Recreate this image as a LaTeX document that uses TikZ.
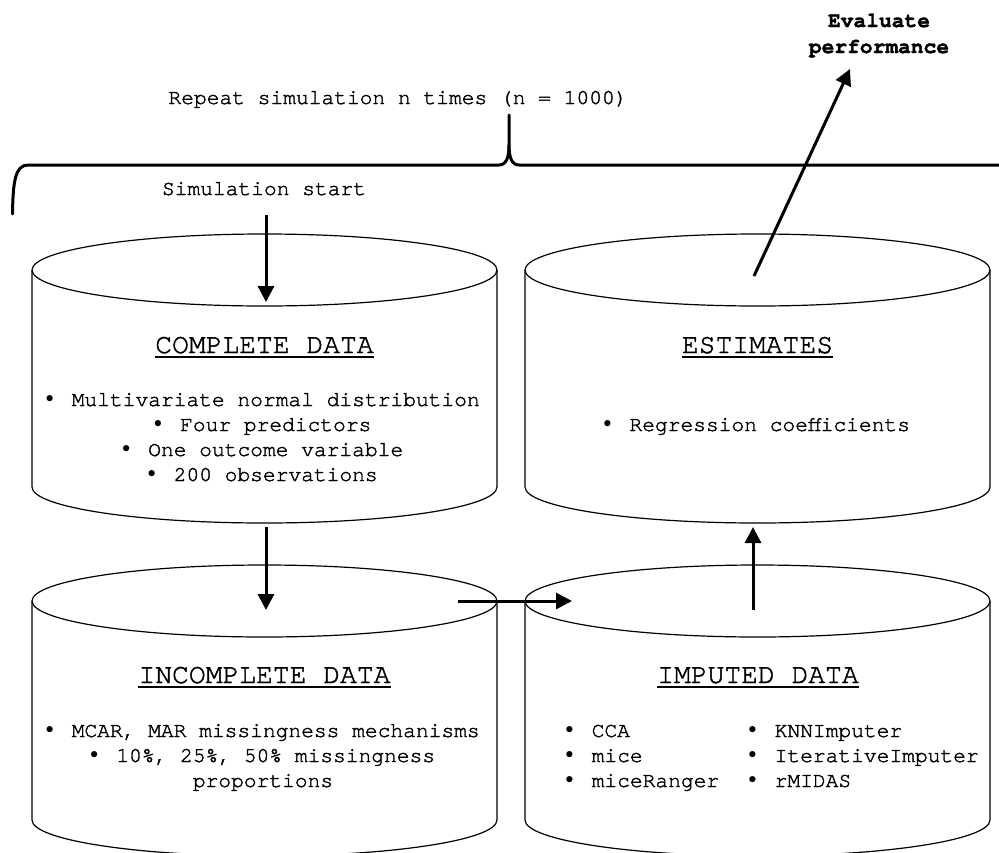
\documentclass[tikz,border=0pt]{standalone}
\usepackage{fontspec}
\setmainfont{TeX Gyre Cursor}[FakeBold=1.6]
\newfontfamily\bulfont{DejaVu Sans Mono}
\usetikzlibrary{arrows.meta}
\frenchspacing
\newcommand\bul{\makebox[12.75pt][l]{\hspace*{-3pt}\bulfont •}}
\tikzset{
  cyl/.style={line width=1.2pt, line join=round},
  conn/.style={line width=3pt, -{Triangle[length=16pt,width=16pt]}},
  brace/.style={line width=3pt, line join=round, line cap=round},
  body/.style={font=\fontsize{21.25}{25}\selectfont, inner sep=0pt},
  ttl/.style={font=\fontsize{28}{32}\selectfont, inner sep=0pt},
  ul/.style={line width=1.8pt},
}
\begin{document}
\begin{tikzpicture}[x=1pt,y=-1pt]
\useasboundingbox (0,0) rectangle (999,852);
\clip (0,0) rectangle (999,852);

% cylinders
\foreach \cx/\ty/\by in {264.5/270/487, 757.5/270/487, 264.5/601/820, 757.5/601/820}{
  \draw[cyl] (\cx-232.5,\ty) -- (\cx-232.5,\by)
     arc[start angle=180, end angle=360, x radius=232.5pt, y radius=36pt]
     -- (\cx+232.5,\ty);
  \draw[cyl] (\cx,\ty) ellipse[x radius=232.5pt, y radius=36pt];
}

% brace
\draw[brace] (12.5,214) .. controls (13,182) and (15,165) .. (28,165)
  -- (499,165) .. controls (506,165) and (509,158) .. (509,145) -- (509,115);
\draw[brace] (509,145) .. controls (509,158) and (512,165) .. (519,165) -- (1000,165);

% top texts
\node[body, anchor=base] (repeat) at (398,104) {Repeat simulation n times (n = 1000)};
\node[body, anchor=base] (start) at (264,195) {Simulation start};
\node[body, anchor=base, font=\fontsize{21.25}{25}\selectfont\bfseries] (evalA) at (879,27) {Evaluate};
\node[body, anchor=base, font=\fontsize{21.25}{25}\selectfont\bfseries] (evalB) at (879,53) {performance};

% complete data
\node[ttl, anchor=base] (tComplete) at (264.5,353) {COMPLETE DATA};
\draw[ul] ([yshift=-4pt]tComplete.base west) -- ([yshift=-4pt]tComplete.base east);
\node[body, anchor=base] (c1) at (263,406) {\bul{} Multivariate normal distribution};
\node[body, anchor=base] (c2) at (263,431) {\bul{} Four predictors};
\node[body, anchor=base] (c3) at (263,456) {\bul{} One outcome variable};
\node[body, anchor=base] (c4) at (263,481) {\bul{} 200 observations};

% estimates
\node[ttl, anchor=base] (tEst) at (757.5,353) {ESTIMATES};
\draw[ul] ([yshift=-4pt]tEst.base west) -- ([yshift=-4pt]tEst.base east);
\node[body, anchor=base] (e1) at (757,431) {\bul{} Regression coefficients};

% incomplete data
\node[ttl, anchor=base] (tInc) at (264.5,683) {INCOMPLETE DATA};
\draw[ul] ([yshift=-4pt]tInc.base west) -- ([yshift=-4pt]tInc.base east);
\node[body, anchor=base] (i1) at (263,737) {\bul{} MCAR, MAR missingness mechanisms};
\node[body, anchor=base] (i2) at (263,762) {\bul{} 10\%, 25\%, 50\% missingness};
\node[body, anchor=base] (i3) at (263,787) {proportions};

% imputed data
\node[ttl, anchor=base] (tImp) at (758,683) {IMPUTED DATA};
\draw[ul] ([yshift=-4pt]tImp.base west) -- ([yshift=-4pt]tImp.base east);
\node[body, anchor=base west] (m1) at (566,737) {\bul{} CCA};
\node[body, anchor=base west] (m2) at (566,762) {\bul{} mice};
\node[body, anchor=base west] (m3) at (566,787) {\bul{} miceRanger};
\node[body, anchor=base west] (m4) at (749,737) {\bul{} KNNImputer};
\node[body, anchor=base west] (m5) at (749,762) {\bul{} IterativeImputer};
\node[body, anchor=base west] (m6) at (749,787) {\bul{} rMIDAS};

% connector end points
\coordinate (a1s) at (266,215);  \coordinate (a1e) at (266,302);
\coordinate (a2s) at (266,527);  \coordinate (a2e) at (266,610);
\coordinate (a3s) at (458,601);  \coordinate (a3e) at (572,601);
\coordinate (a4s) at (753,610);  \coordinate (a4e) at (753,527);
\coordinate (a5s) at (754,276);  \coordinate (a5e) at (850,69);

\draw[conn] (a1s) -- (a1e);
\draw[conn] (a2s) -- (a2e);
\draw[conn] (a3s) -- (a3e);
\draw[conn] (a4s) -- (a4e);
\draw[conn] (a5s) -- (a5e);
\end{tikzpicture}
\end{document}
